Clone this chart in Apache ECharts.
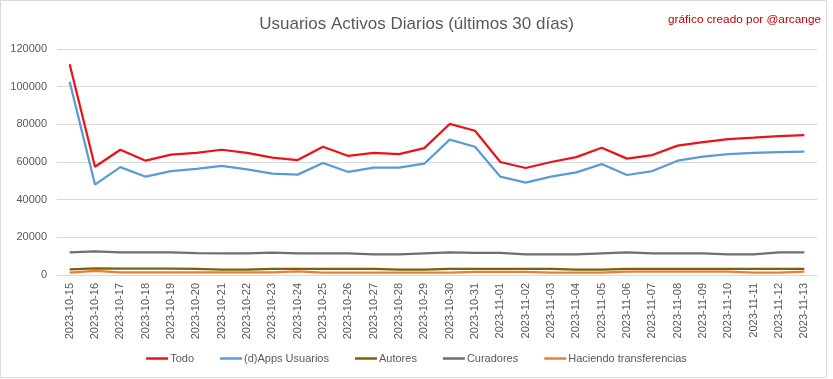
<!DOCTYPE html>
<html>
<head>
<meta charset="utf-8">
<script src="https://cdn.jsdelivr.net/npm/echarts@6/dist/echarts.min.js"></script>
<style>html,body{margin:0;padding:0;background:#fff}#c{width:833px;height:379px}</style>
</head>
<body>
<div id="c"></div>
<script>
const categories = ["2023-10-15","2023-10-16","2023-10-17","2023-10-18","2023-10-19","2023-10-20","2023-10-21","2023-10-22","2023-10-23","2023-10-24","2023-10-25","2023-10-26","2023-10-27","2023-10-28","2023-10-29","2023-10-30","2023-10-31","2023-11-01","2023-11-02","2023-11-03","2023-11-04","2023-11-05","2023-11-06","2023-11-07","2023-11-08","2023-11-09","2023-11-10","2023-11-11","2023-11-12","2023-11-13"];
const todo = [111900,57500,66500,60700,63900,64800,66500,64800,62300,61000,68100,63200,64800,64200,67400,80200,76600,60000,56800,60000,62600,67600,61800,63700,68700,70600,72200,72900,73800,74300];
const dapps = [102600,48000,57300,52200,55200,56300,57900,56100,53800,53300,59500,54700,57000,57000,59100,71900,68100,52200,49000,52200,54500,58900,53100,55200,60700,62800,64200,64800,65300,65500];
const autores = [3000,3500,3400,3400,3400,3300,2900,2900,3200,3300,3300,3300,3200,2900,2900,3300,3300,3300,3300,3300,2900,2900,3300,3300,3300,3300,3300,3300,3300,3300];
const curadores = [12000,12500,12000,12000,12000,11600,11500,11500,11900,11500,11500,11500,11000,11000,11500,12000,11700,11700,11000,11000,11000,11500,12000,11500,11500,11500,11000,11000,12000,12000];
const transferencias = [1300,2200,1400,1400,1400,1400,1400,1400,1400,1900,1300,1300,1300,1300,1300,1300,1700,1700,1700,1300,1300,1300,1800,1800,1800,1800,1800,1300,1300,1800];
const yTicks = [0,20000,40000,60000,80000,100000,120000];

const FONT = "Liberation Sans";
const chart = echarts.init(document.getElementById('c'), null, {renderer:'canvas'});
function mk(name, data, color, width){
  return {name, type:'line', data, symbol:'none', smooth:false,
    lineStyle:{color, width}, itemStyle:{color}, emphasis:{disabled:true}};
}
chart.setOption({
  animation:false,
  backgroundColor:'#fff',
  title:[{
    text:'Usuarios Activos Diarios (últimos 30 días)', left:'center', top:11,
    textStyle:{fontFamily:FONT, fontSize:17, fontWeight:'normal', color:'#595959'}
  },{
    text:'gráfico creado por @arcange', right:7, top:9,
    textStyle:{fontFamily:FONT, fontSize:11.8, fontWeight:'normal', color:'#C00000'}
  }],
  graphic:[{type:'rect', shape:{x:0.5,y:0.5,width:826,height:377}, style:{fill:'none', stroke:'#d9d9d9', lineWidth:1}, silent:true}],
  grid:{left:57, right:16, top:49, bottom:104, containLabel:false},
  legend:{
    bottom:10, left:'center', icon:'rect', itemWidth:22, itemHeight:2.5, itemGap:26,
    textStyle:{fontFamily:FONT, fontSize:11, color:'#595959', padding:[0,0,0,-3]},
    data:['Todo','(d)Apps Usuarios','Autores','Curadores','Haciendo transferencias']
  },
  xAxis:{
    type:'category', data:categories, boundaryGap:true,
    axisLine:{lineStyle:{color:'#d9d9d9', width:1}},
    axisTick:{show:false},
    axisLabel:{rotate:90, interval:0, fontFamily:FONT, fontSize:11, color:'#595959', margin:8}
  },
  yAxis:{
    type:'value', min:yTicks[0], max:yTicks[yTicks.length-1], interval:20000,
    axisLine:{show:false}, axisTick:{show:false},
    splitLine:{lineStyle:{color:'#d9d9d9', width:1}},
    axisLabel:{fontFamily:FONT, fontSize:11, color:'#595959', margin:10, formatter:function(v){return String(v);}}
  },
  series:[
    mk('Todo', todo, '#E8141C', 2.25),
    mk('(d)Apps Usuarios', dapps, '#5B9BD5', 2.25),
    mk('Autores', autores, '#7F6000', 2.25),
    mk('Curadores', curadores, '#6F6F6F', 2.25),
    mk('Haciendo transferencias', transferencias, '#ED7D31', 2.25)
  ]
});
</script>
</body>
</html>
